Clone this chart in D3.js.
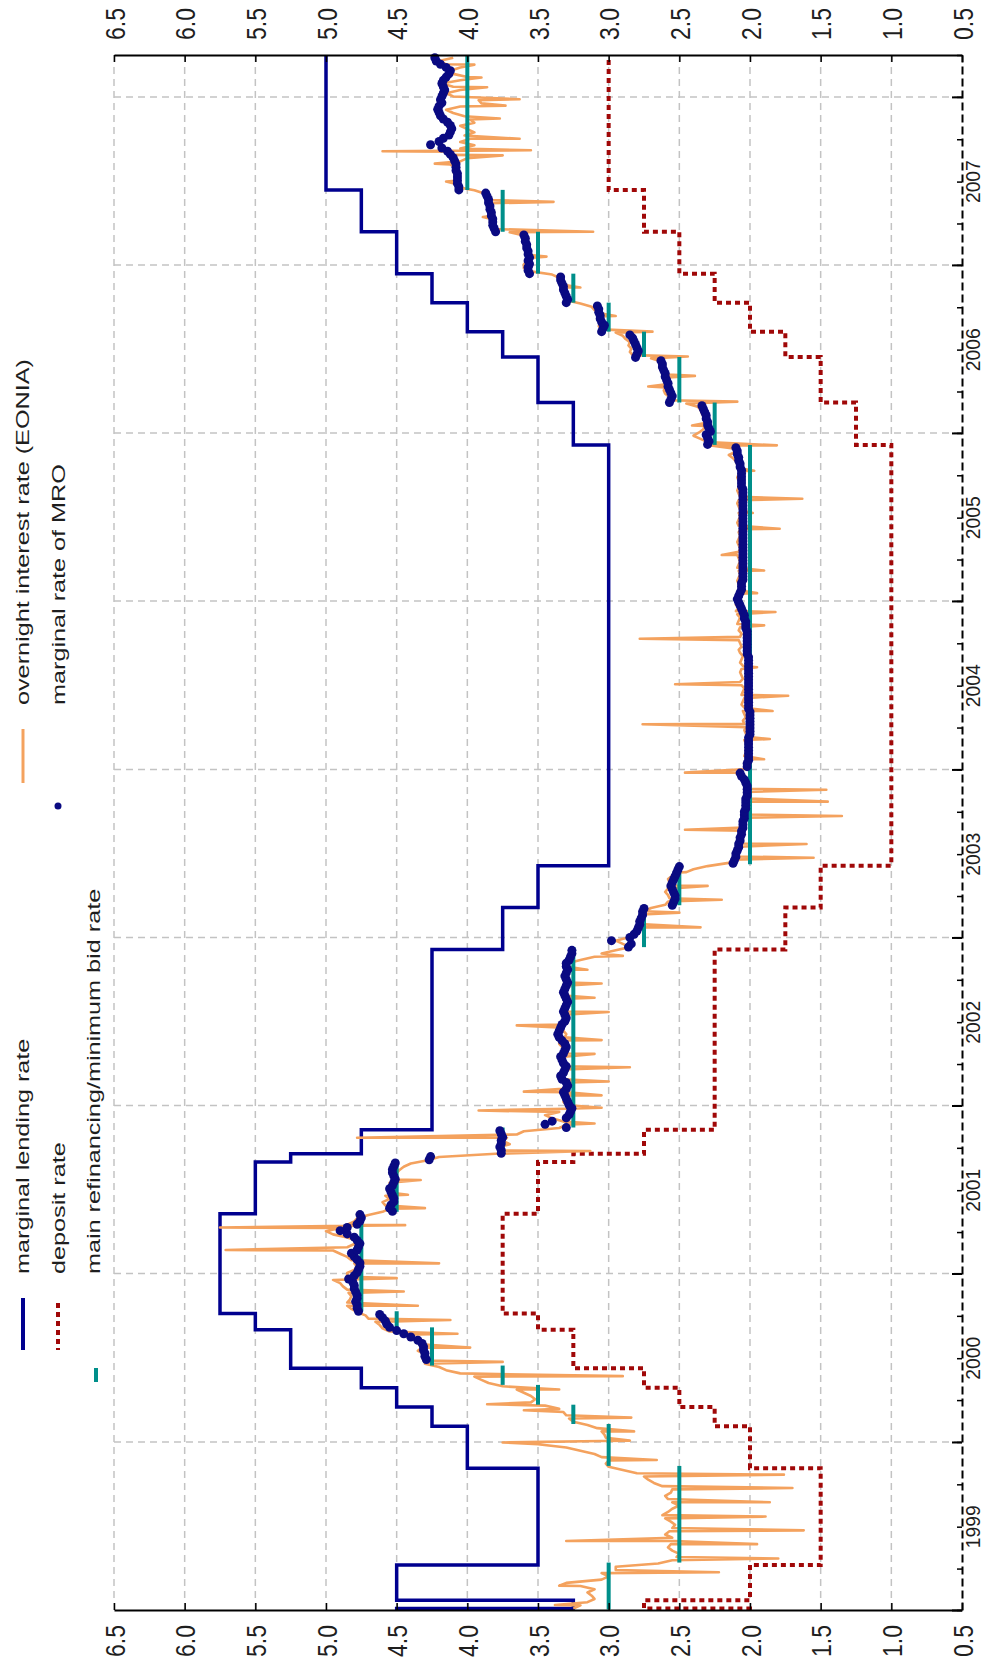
<!DOCTYPE html>
<html>
<head>
<meta charset="utf-8">
<script src="https://cdn.jsdelivr.net/npm/d3@7"></script>
<style>
  body { margin: 0; background: #fff; }
  text { font-family: "Liberation Sans", Arial, sans-serif; fill: #1e1e1e; }
</style>
</head>
<body>
<svg id="chart" width="985" height="1673"></svg>
<script>
// ECB interest rates 1999-2008, chart turned on its side (time runs upward)

var rateTicks = [6.5, 6.0, 5.5, 5.0, 4.5, 4.0, 3.5, 3.0, 2.5, 2.0, 1.5, 1.0, 0.5];
var yearLabels = [1999, 2000, 2001, 2002, 2003, 2004, 2005, 2006, 2007];

var lendingDates = ["1999-01-01","1999-01-04","1999-01-22","1999-04-09","1999-11-05","2000-02-04","2000-03-17","2000-04-28","2000-06-09","2000-09-01","2000-10-06","2001-05-11","2001-08-31","2001-09-18","2001-11-09","2002-12-06","2003-03-07","2003-06-06","2005-12-06","2006-03-08","2006-06-15","2006-08-09","2006-10-11","2006-12-13","2007-03-14","2007-06-13"];
var lendingRates = [4.5,3.25,4.5,3.5,4.0,4.25,4.5,4.75,5.25,5.5,5.75,5.5,5.25,4.75,4.25,3.75,3.5,3.0,3.25,3.5,3.75,4.0,4.25,4.5,4.75,5.0];
var depositRates = [2.0,2.75,2.0,1.5,2.0,2.25,2.5,2.75,3.25,3.5,3.75,3.5,3.25,2.75,2.25,1.75,1.5,1.0,1.25,1.5,1.75,2.0,2.25,2.5,2.75,3.0];

var mroDates = ["1999-01-02","1999-04-14","1999-11-10","2000-02-09","2000-03-22","2000-05-04","2000-06-15","2000-09-06","2000-10-11","2001-05-15","2001-09-05","2001-09-19","2001-11-14","2002-12-11","2003-03-12","2003-06-09","2005-12-06","2006-03-08","2006-06-15","2006-08-09","2006-10-11","2006-12-13","2007-03-14","2007-06-13","2008-04-01"];
var mroRates = [3.0,2.5,3.0,3.25,3.5,3.75,4.25,4.5,4.75,4.5,4.25,3.75,3.25,2.75,2.5,2.0,2.25,2.5,2.75,3.0,3.25,3.5,3.75,4.0];

// overnight rate, one value a week from the start date of each year
var eonia1999 = [3.25,3.20,3.15,3.10,3.12,3.15,3.10,3.20,3.30,3.05,3.00,3.05,2.95,2.95,
  2.65,2.55,2.52,2.50,2.55,2.58,2.56,2.54,2.55,2.60,2.57,2.55,2.53,2.56,2.60,2.62,2.58,2.55,2.50,2.55,2.58,2.60,2.56,2.55,2.62,2.68,2.72,2.75,2.80,2.90,
  3.00,3.02,3.00,3.05,3.10,3.20,3.30,3.50];
var eonia2000 = [3.05,3.02,3.03,3.05,3.08,3.15, 3.25,3.28,3.30,3.32,3.35,3.45, 3.55,3.52,3.55,3.60,3.65,3.75,
  3.85,3.90,3.95,4.05,4.15,4.20, 4.30,4.31,4.32,4.30,4.35,4.32,4.33,4.35,4.40,4.45,4.55,4.60,
  4.62,4.65,4.70,4.72,4.78, 4.82,4.85,4.85,4.83,4.82,4.84,4.85,4.88,4.90,4.95,4.85];
var eonia2001 = [4.85,4.80,4.78,4.80,4.82,4.85,4.90,4.95,4.85,4.80,4.78,4.85,4.95,5.00,4.90,4.85,4.80,4.78,4.70,
  4.60,4.55,4.58,4.60,4.55,4.58,4.55,4.52,4.53,4.55,4.52,4.50,4.50,4.48,4.45,4.40,
  4.28,4.20, 3.80,3.75,3.78,3.70,3.75,3.72,3.65,3.60, 3.35,3.30,3.32,3.40,3.45,3.35,3.30];
var eonia2002 = [3.30,3.32,3.28,3.30,3.31,3.33,3.30,3.29,3.32,3.35,3.30,3.31,3.32,3.30,3.33,3.31,3.30,3.32,3.33,3.35,
  3.34,3.31,3.30,3.32,3.33,3.31,3.30,3.29,3.31,3.32,3.30,3.31,3.30,3.29,3.31,3.32,3.30,3.31,3.29,3.30,
  3.31,3.30,3.28,3.30,3.29,3.20,3.10,3.05,2.95, 2.85,2.90,2.95];
var eonia2003 = [2.85,2.82,2.80,2.79,2.78,2.80,2.77,2.76,2.75,2.70,
  2.60,2.58,2.57,2.58,2.60,2.58,2.56,2.57,2.58,2.55,2.50,2.40,2.30,
  2.15,2.12,2.10,2.10,2.09,2.08,2.08,2.07,2.07,2.06,2.05,2.05,2.05,2.04,2.04,2.03,2.03,2.03,2.02,2.02,2.02,2.02,2.02,2.02,2.02,2.02,2.05,2.08,2.10];
var eonia2004 = [2.02,2.03,2.02,2.03,2.04,2.03,2.03,2.02,2.03,2.04,2.02,2.03,2.04,2.03,2.04,2.05,2.03,2.04,2.05,2.04,
  2.06,2.05,2.04,2.06,2.05,2.04,2.06,2.07,2.05,2.06,2.07,2.06,2.05,2.07,2.06,2.05,2.07,2.08,2.06,2.07,
  2.08,2.07,2.06,2.08,2.07,2.09,2.08,2.07,2.09,2.10,2.08,2.10];
var eonia2005 = [2.08,2.07,2.09,2.08,2.07,2.08,2.09,2.08,2.07,2.08,2.09,2.08,2.07,2.08,2.09,2.08,2.07,2.08,2.09,2.08,
  2.07,2.08,2.07,2.08,2.09,2.08,2.07,2.08,2.07,2.08,2.09,2.08,2.07,2.08,2.09,2.08,2.07,2.08,2.09,2.08,
  2.07,2.08,2.09,2.10,2.12,2.15,2.10,2.12,2.28,2.30,2.35,2.40];
var eonia2006 = [2.36,2.33,2.32,2.31,2.32,2.33,2.34,2.35,2.37,2.45,
  2.58,2.57,2.60,2.61,2.60,2.58,2.59,2.61,2.58,2.60,2.62,2.60,2.63,2.70,
  2.83,2.85,2.84,2.86,2.85,2.88,2.90,2.95, 3.05,3.07,3.06,3.05,3.08,3.06,3.10,3.12,3.20,
  3.30,3.31,3.32,3.30,3.33,3.34,3.32,3.35,3.40, 3.55,3.60];
var eonia2007 = [3.60,3.58,3.56,3.57,3.58,3.56,3.57,3.58,3.57,3.60,3.70,
  3.82,3.83,3.81,3.82,3.84,3.82,3.83,3.85,3.84,3.86,3.85,3.88,3.95,
  4.07,4.08,4.06,4.08,4.09,4.10,4.08,4.12,4.05,4.00,4.10,4.15,4.05,3.95,4.05,3.98,4.02,3.95,4.00,4.05,3.95,3.98,4.02,4.10,4.15,4.05,3.90,3.92];
var eonia2008 = [4.10,4.15,4.05,4.10,4.18,4.05,4.00,4.10,4.12,4.05,4.15,4.20,4.10];
var eoniaStarts = ["1999-01-04","2000-01-03","2001-01-02","2002-01-02","2003-01-02","2004-01-02","2005-01-03","2006-01-02","2007-01-02","2008-01-02"];

// single days where the overnight rate jumped away from its level
var eoniaSpikes = [
  ["1999-01-12",3.38],["1999-02-23",3.35],["1999-03-24",2.22],["1999-04-23",1.80],["1999-05-24",1.95],["1999-05-31",3.30],
  ["1999-06-23",1.62],["1999-07-23",1.89],["1999-08-23",1.86],["1999-09-23",1.70],["1999-10-22",1.76],["1999-11-23",2.66],["1999-12-31",3.75],
  ["2000-01-04",2.85],["2000-01-24",2.82],["2000-02-23",2.84],["2000-03-10",3.60],["2000-03-23",3.86],["2000-04-24",3.35],["2000-05-23",2.90],
  ["2000-06-23",3.75],["2000-07-24",3.98],["2000-08-23",4.07],["2000-09-22",4.12],["2000-10-23",4.35],["2000-11-23",4.45],["2000-12-22",4.50],
  ["2001-01-23",4.20],["2001-02-21",5.71],["2001-04-11",5.75],["2001-04-16",4.44],["2001-05-23",4.30],["2001-06-21",4.42],["2001-07-23",4.33],
  ["2001-09-24",3.13],["2001-10-23",4.78],["2001-11-23",3.10],["2001-12-21",3.92],["2001-12-27",3.05],
  ["2002-01-23",3.05],["2002-01-31",3.60],["2002-02-22",3.00],["2002-03-25",2.85],["2002-04-23",3.10],["2002-05-23",3.05],["2002-06-24",3.65],["2002-07-23",3.00],
  ["2002-08-23",3.10],["2002-09-23",3.05],["2002-10-23",3.15],["2002-11-22",2.90],
  ["2003-01-23",2.35],["2003-02-24",2.50],["2003-03-24",2.20],["2003-04-23",2.30],["2003-05-23",2.45],["2003-06-23",1.55],["2003-07-23",1.60],
  ["2003-08-23",2.46],["2003-09-22",1.35],["2003-10-23",1.45],["2003-11-18",1.46],["2003-12-25",2.46],
  ["2004-01-23",1.90],["2004-03-07",1.86],["2004-04-08",2.76],["2004-05-07",1.84],["2004-06-09",1.73],["2004-07-04",2.53],["2004-08-10",1.95],
  ["2004-10-11",2.78],["2004-11-09",1.90],["2004-12-08",1.82],
  ["2005-01-18",1.95],["2005-03-08",1.90],["2005-04-11",2.20],["2005-06-07",1.79],["2005-07-11",1.98],["2005-08-11",1.63],["2005-10-11",1.97],["2005-12-05",1.81],
  ["2006-01-17",2.41],["2006-03-10",2.09],["2006-04-12",2.72],["2006-05-05",2.39],["2006-06-16",2.44],["2006-08-09",2.69],["2006-09-12",2.95],["2006-11-13",3.20],
  ["2007-01-19",3.44],["2007-03-14",3.11],["2007-04-15",3.89],["2007-05-18",3.39],["2007-07-01",4.15],["2007-08-09",4.23],["2007-08-27",3.75],
  ["2007-09-05",4.60],["2007-09-07",3.55],["2007-10-02",3.63],["2007-11-15",3.77],["2007-12-13",3.73],["2007-12-27",3.63],
  ["2008-01-22",3.86],["2008-02-12",3.90],["2008-03-11",3.95]
];

// marginal rate of the weekly tenders
var marginal2000 = [4.29,4.30,4.30,4.31,4.31,4.32,4.35,4.40,4.45,4.50, 4.55,4.57,4.58,4.60,4.62,
  4.77,4.78,4.78,4.79,4.78,4.78,4.79,4.80,4.80,4.81,4.84,4.80];
var marginal2001 = [4.78,4.77,4.76,4.76,4.78,4.80,4.82,4.78,4.77,4.76,4.78,4.80,4.85,4.90,4.85,4.78,4.76,4.75,4.76,
  4.53,4.55,4.54,4.52,4.52,4.53,4.54,4.55,4.53,4.52,4.51,4.52,4.53,4.53,4.52,4.51,
  4.27,4.26, 3.76,3.76,3.77,3.76,3.76,3.75,3.76,3.77, 3.30,3.45,3.40,3.30,3.28,3.27,3.26];
var marginal2002 = [3.28,3.29,3.30,3.31,3.32,3.30,3.29,3.30,3.33,3.34,3.32,3.31,3.30,3.32,3.33,3.34,3.32,3.31,3.30,3.31,
  3.33,3.35,3.36,3.35,3.34,3.33,3.31,3.30,3.31,3.32,3.31,3.30,3.29,3.30,3.31,3.32,3.31,3.30,3.29,3.30,
  3.31,3.30,3.29,3.30,3.30,3.28,3.27,3.26,3.26, 2.86,2.84,2.98];
var marginal2003 = [2.85,2.82,2.80,2.79,2.78,2.78,2.77,2.76,2.76,2.75,
  2.55,2.54,2.53,2.53,2.54,2.55,2.56,2.55,2.54,2.53,2.52,2.51,2.50,
  2.12,2.11,2.10,2.10,2.09,2.08,2.08,2.07,2.07,2.06,2.06,2.05,2.05,2.05,2.04,2.04,2.04,2.03,2.03,2.03,2.03,2.02,2.02,2.02,2.02,2.03,2.04,2.06,2.07];
var marginal2004 = [2.02,2.02,2.01,2.01,2.01,2.01,2.01,2.01,2.01,2.01,2.00,2.00,2.00,2.00,2.00,2.00,2.00,2.00,2.01,2.01,
  2.01,2.01,2.01,2.01,2.01,2.01,2.01,2.01,2.01,2.01,2.01,2.01,2.01,2.01,2.01,2.02,2.02,2.02,2.02,2.02,
  2.02,2.02,2.02,2.03,2.03,2.03,2.04,2.04,2.05,2.06,2.07,2.08];
var marginal2005 = [2.09,2.08,2.07,2.06,2.06,2.06,2.05,2.05,2.05,2.05,2.05,2.05,2.05,2.05,2.05,2.05,2.05,2.05,2.05,2.05,
  2.05,2.05,2.05,2.05,2.05,2.05,2.05,2.05,2.05,2.05,2.05,2.05,2.05,2.05,2.05,2.06,2.06,2.06,2.06,2.06,
  2.06,2.07,2.07,2.08,2.08,2.09,2.09,2.10, 2.30,2.29,2.30,2.31];
var marginal2006 = [2.28,2.29,2.30,2.30,2.31,2.31,2.32,2.33,2.34,
  2.57,2.56,2.55,2.56,2.57,2.58,2.58,2.59,2.60,2.60,2.61,2.62,2.62,2.63,
  2.81,2.80,2.79,2.80,2.81,2.82,2.83,2.85, 3.05,3.04,3.03,3.05,3.06,3.06,3.07,3.07,3.08,
  3.30,3.29,3.30,3.31,3.32,3.32,3.33,3.34,3.34, 3.56,3.57,3.57];
var marginal2007 = [3.56,3.57,3.56,3.57,3.57,3.58,3.58,3.59,3.59,3.60,
  3.80,3.81,3.82,3.82,3.82,3.83,3.83,3.84,3.84,3.85,3.85,3.86,3.87,
  4.06,4.06,4.07,4.07,4.07,4.07,4.08,4.08,4.08,
  4.09,4.10,4.12,4.14,4.18,4.26,4.20,4.17,4.13,4.12,4.11,4.12,4.14,4.17,4.19,4.20,4.21,4.20,4.18,4.19];
var marginal2008 = [4.18,4.17,4.16,4.17,4.18,4.17,4.15,4.13,4.12,4.15,4.19,4.22,4.23];
var marginalStarts = ["2000-06-28","2001-01-03","2002-01-02","2003-01-01","2004-01-07","2005-01-05","2006-01-04","2007-01-03","2008-01-02"];

var svg = d3.select("#chart");
var parse = d3.timeParse("%Y-%m-%d");
var tStart = parse("1999-01-01"), tEnd = parse("2008-04-01");

var y = d3.scaleTime().domain([tStart, tEnd]).range([1610, 55]);
var x = d3.scaleLinear().domain([6.5, 0.5]).range([114, 962]);

function weekly(start, vals) {
  var s = parse(start);
  return vals.map(function(v, i) { return {date: d3.timeDay.offset(s, 7 * i), value: v}; });
}

var eonia = [];
[eonia1999, eonia2000, eonia2001, eonia2002, eonia2003, eonia2004, eonia2005, eonia2006, eonia2007, eonia2008]
  .forEach(function(a, i) { eonia = eonia.concat(weekly(eoniaStarts[i], a)); });
eonia = eonia.concat(eoniaSpikes.map(function(d) { return {date: parse(d[0]), value: d[1]}; }));
eonia.sort(function(a, b) { return a.date - b.date; });

var marginal = [];
[marginal2000, marginal2001, marginal2002, marginal2003, marginal2004, marginal2005, marginal2006, marginal2007, marginal2008]
  .forEach(function(a, i) { marginal = marginal.concat(weekly(marginalStarts[i], a)); });

function steps(rates) {
  var pts = lendingDates.map(function(d, i) { return {date: parse(d), value: rates[i]}; });
  pts.push({date: tEnd, value: rates[rates.length - 1]});
  return pts;
}

// grid
var grid = svg.append("g").attr("stroke", "#c3c3c3").attr("stroke-width", 1.5).attr("stroke-dasharray", "7,5");
grid.selectAll(".gx").data(rateTicks.slice(0, -1)).join("line")
  .attr("x1", function(d) { return x(d); }).attr("x2", function(d) { return x(d); })
  .attr("y1", y(tEnd)).attr("y2", y(tStart));
grid.selectAll(".gy").data(d3.range(2000, 2009)).join("line")
  .attr("x1", x(6.5)).attr("x2", x(0.5))
  .attr("y1", function(d) { return y(new Date(d, 0, 1)); })
  .attr("y2", function(d) { return y(new Date(d, 0, 1)); });

var stepLine = d3.line()
  .x(function(d) { return x(d.value); })
  .y(function(d) { return y(d.date); })
  .curve(d3.curveStepBefore);

svg.append("path").datum(steps(lendingRates))
  .attr("d", stepLine).attr("fill", "none").attr("stroke", "#00008f").attr("stroke-width", 3.5);
svg.append("path").datum(steps(depositRates))
  .attr("d", stepLine).attr("fill", "none").attr("stroke", "#a00808").attr("stroke-width", 4)
  .attr("stroke-dasharray", "5,4");

var eoniaLine = d3.line()
  .x(function(d) { return x(d.value); })
  .y(function(d) { return y(d.date); });
svg.append("path").datum(eonia)
  .attr("d", eoniaLine).attr("fill", "none").attr("stroke", "#f4a25e").attr("stroke-width", 2.6)
  .attr("stroke-linejoin", "round");

// minimum bid rate: one short bar for every period
svg.append("g").selectAll("line").data(mroRates).join("line")
  .attr("x1", function(d) { return x(d); }).attr("x2", function(d) { return x(d); })
  .attr("y1", function(d, i) { return y(parse(mroDates[i])); })
  .attr("y2", function(d, i) { return y(parse(mroDates[i + 1])); })
  .attr("stroke", "#008f8a").attr("stroke-width", 4);

svg.append("g").selectAll("circle").data(marginal).join("circle")
  .attr("cx", function(d) { return x(d.value); })
  .attr("cy", function(d) { return y(d.date); })
  .attr("r", 4.5).attr("fill", "#0a0a82");

// axes
function squeeze(sel, factor) {
  sel.each(function() {
    var len = this.getComputedTextLength();
    d3.select(this).attr("textLength", len * factor).attr("lengthAdjust", "spacingAndGlyphs");
  });
}

var gTop = svg.append("g").attr("transform", "translate(0,55)")
  .call(d3.axisTop(x).tickValues(rateTicks).tickFormat(d3.format(".1f")).tickSizeInner(-7).tickSizeOuter(0));
var gBottom = svg.append("g").attr("transform", "translate(0,1610)")
  .call(d3.axisBottom(x).tickValues(rateTicks).tickFormat(d3.format(".1f")).tickSizeInner(-7).tickSizeOuter(0));
[gTop, gBottom].forEach(function(g, k) {
  g.select(".domain").attr("stroke", "#000").attr("stroke-width", 2);
  g.selectAll(".tick line").attr("stroke", "#000").attr("stroke-width", 1.5);
  g.selectAll(".tick text")
    .attr("x", 0).attr("y", 0).attr("dy", "0.36em")
    .attr("transform", k == 0 ? "translate(0,-15) rotate(-90)" : "translate(0,15) rotate(-90)")
    .attr("text-anchor", k == 0 ? "start" : "end")
    .attr("font-size", 28).attr("font-family", null).attr("fill", "#1e1e1e");
  squeeze(g.selectAll(".tick text"), 0.82);
});

var gRight = svg.append("g").attr("transform", "translate(962,0)")
  .call(d3.axisRight(y).ticks(d3.timeMonth.every(3)).tickSizeInner(-5).tickSizeOuter(0).tickFormat(""));
gRight.select(".domain").attr("stroke", "#000").attr("stroke-width", 2).attr("stroke-dasharray", "8,4");
gRight.selectAll(".tick line").attr("stroke", "#000").attr("stroke-width", 1.5);

var gYears = svg.append("g").attr("transform", "translate(962,0)")
  .call(d3.axisRight(y).ticks(d3.timeYear.every(1)).tickSizeInner(-10).tickSizeOuter(0).tickFormat(""));
gYears.select(".domain").remove();
gYears.selectAll(".tick line").attr("stroke", "#000").attr("stroke-width", 2);

var gYearText = svg.append("g").attr("transform", "translate(962,0)")
  .call(d3.axisRight(y).tickValues(yearLabels.map(function(d) { return new Date(d, 6, 2); }))
    .tickSize(0).tickFormat(d3.timeFormat("%Y")));
gYearText.select(".domain").remove();
gYearText.selectAll(".tick text")
  .attr("x", 0).attr("y", 0).attr("dy", null)
  .attr("transform", "translate(18,0) rotate(-90)")
  .attr("text-anchor", "middle").attr("font-size", 21).attr("font-family", null).attr("fill", "#1e1e1e");
squeeze(gYearText.selectAll(".tick text"), 0.92);

// legend
var legend = svg.append("g");
legend.append("line").attr("x1", 23).attr("x2", 23).attr("y1", 1298).attr("y2", 1350)
  .attr("stroke", "#00008f").attr("stroke-width", 4);
legend.append("line").attr("x1", 58).attr("x2", 58).attr("y1", 1303).attr("y2", 1350)
  .attr("stroke", "#a00808").attr("stroke-width", 4).attr("stroke-dasharray", "5,4");
legend.append("line").attr("x1", 96).attr("x2", 96).attr("y1", 1368).attr("y2", 1382)
  .attr("stroke", "#008f8a").attr("stroke-width", 4);
legend.append("line").attr("x1", 23).attr("x2", 23).attr("y1", 729).attr("y2", 783)
  .attr("stroke", "#f4a25e").attr("stroke-width", 3);
legend.append("circle").attr("cx", 58).attr("cy", 806).attr("r", 3.5).attr("fill", "#0a0a82");

function legendText(label, bx, by) {
  return legend.append("text").text(label)
    .attr("transform", "translate(" + bx + "," + by + ") rotate(-90)")
    .attr("font-size", 18).attr("text-anchor", "start");
}
var lt = [
  legendText("marginal lending rate", 29, 1274),
  legendText("deposit rate", 65, 1274),
  legendText("main refinancing/minimum bid rate", 100, 1274),
  legendText("overnight interest rate (EONIA)", 29, 705),
  legendText("marginal rate of MRO", 65, 705)
];
lt.forEach(function(t) { squeeze(t, 1.4); });
</script>
</body>
</html>
